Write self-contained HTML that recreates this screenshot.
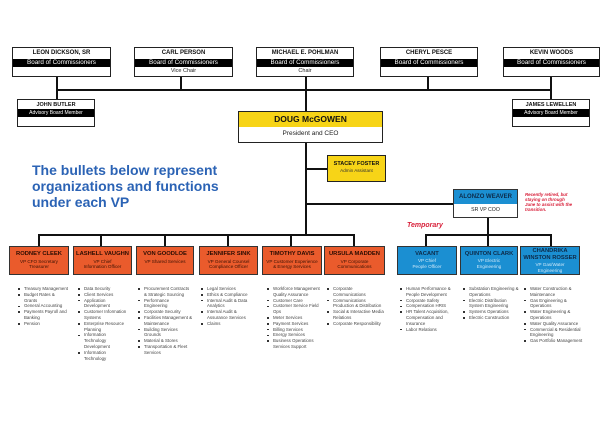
<!DOCTYPE html>
<html><head><meta charset="utf-8"><style>
*{margin:0;padding:0;box-sizing:border-box}
body{width:606px;height:424px;background:#fff;position:relative;overflow:hidden;font-family:"Liberation Sans",sans-serif}
.a{position:absolute}
.l{position:absolute;background:#111}
.bd{position:absolute;border:1.5px solid #222;background:#fff;text-align:center}
.bd .n{font-weight:bold;font-size:6px;height:11px;line-height:11px;color:#111}
.bd .k{background:#000;color:#fff;font-size:6.3px;line-height:8px;height:8px}
.bd .s{font-size:5.5px;line-height:9px;color:#222}
.adv .n{font-size:5.5px;height:9px;line-height:10px}
.adv .k{font-size:5px;height:8px;line-height:8px}
.vp{position:absolute;top:246px;height:29px;border:1px solid #333;text-align:center;font-size:4.6px;line-height:5.5px;padding-top:4px}
.o{background:#ea5b2c;color:#3a1204}
.o b{font-size:5.8px;line-height:7.5px;color:#2a0c02}
.bl{background:#1b8fd2;color:#cfe8f8}
.bl b{font-size:5.8px;line-height:7px;color:#0d2a48}
ul{position:absolute;top:286px;width:52px;font-size:4.4px;line-height:5.8px;color:#444;list-style:none}
li{padding-left:7px;position:relative}
li:before{content:"";position:absolute;left:1px;top:2.2px;width:1.6px;height:1.6px;background:#333}
</style></head><body>
<!-- board -->
<div class="bd" style="left:12px;top:47px;width:99px;height:30px"><div class="n">LEON DICKSON, SR</div><div class="k">Board of Commissioners</div></div>
<div class="bd" style="left:134px;top:47px;width:99px;height:30px"><div class="n">CARL PERSON</div><div class="k">Board of Commissioners</div><div class="s">Vice Chair</div></div>
<div class="bd" style="left:256px;top:47px;width:98px;height:30px"><div class="n">MICHAEL E. POHLMAN</div><div class="k">Board of Commissioners</div><div class="s">Chair</div></div>
<div class="bd" style="left:380px;top:47px;width:98px;height:30px"><div class="n">CHERYL PESCE</div><div class="k">Board of Commissioners</div></div>
<div class="bd" style="left:503px;top:47px;width:97px;height:30px"><div class="n">KEVIN WOODS</div><div class="k">Board of Commissioners</div></div>
<div class="l" style="left:56px;top:77px;width:1.5px;height:22px"></div>
<div class="l" style="left:180px;top:77px;width:1.5px;height:13px"></div>
<div class="l" style="left:305px;top:77px;width:1.5px;height:34px"></div>
<div class="l" style="left:427px;top:77px;width:1.5px;height:13px"></div>
<div class="l" style="left:550px;top:77px;width:1.5px;height:22px"></div>
<div class="l" style="left:56px;top:89px;width:496px;height:1.5px"></div>
<div class="bd adv" style="left:17px;top:99px;width:78px;height:28px"><div class="n">JOHN BUTLER</div><div class="k">Advisory Board Member</div></div>
<div class="bd adv" style="left:512px;top:99px;width:78px;height:28px"><div class="n">JAMES LEWELLEN</div><div class="k">Advisory Board Member</div></div>
<!-- CEO -->
<div class="a" style="left:238px;top:111px;width:145px;height:32px;border:1.5px solid #222;text-align:center">
<div style="background:#f7d417;height:15px;font-weight:bold;font-size:8.5px;line-height:15px;color:#111">DOUG McGOWEN</div>
<div style="font-size:6.5px;line-height:14px;color:#222">President and CEO</div></div>
<div class="l" style="left:305px;top:143px;width:1.5px;height:93px"></div>
<div class="l" style="left:305px;top:168px;width:23px;height:1.5px"></div>
<div class="a" style="left:327px;top:155px;width:59px;height:27px;border:1.5px solid #222;background:#f7d417;text-align:center;padding-top:5px">
<div style="font-weight:bold;font-size:5.5px;line-height:7px;color:#111">STACEY FOSTER</div><div style="font-size:4.6px;color:#333">Admin Assistant</div></div>
<div class="a" style="left:32px;top:162px;font-weight:bold;font-size:14px;line-height:16px;color:#2b63b5">The bullets below represent<br>organizations and functions<br>under each VP</div>
<!-- COO -->
<div class="l" style="left:305px;top:203px;width:148px;height:1.5px"></div>
<div class="a" style="left:453px;top:189px;width:65px;height:29px;border:1.5px solid #333;background:#fff;text-align:center">
<div style="background:#1b8fd2;height:14px;font-weight:bold;font-size:6px;line-height:14px;color:#0d2a48">ALONZO WEAVER</div>
<div style="font-size:5.2px;line-height:13px;color:#222">SR VP COO</div></div>
<div class="a" style="left:525px;top:192px;font-size:4.4px;line-height:5px;font-style:italic;font-weight:bold;color:#d8203a">Recently retired, but<br>staying on through<br>June to assist with the<br>transition.</div>
<div class="a" style="left:407px;top:222px;font-size:7px;font-weight:bold;font-style:italic;color:#d8203a">Temporary</div>
<div class="l" style="left:487px;top:218px;width:1.5px;height:18px"></div>
<div class="l" style="left:425px;top:234px;width:127px;height:1.5px"></div>
<div class="l" style="left:425px;top:234px;width:1.5px;height:12px"></div>
<div class="l" style="left:487px;top:234px;width:1.5px;height:12px"></div>
<div class="l" style="left:550px;top:234px;width:1.5px;height:12px"></div>
<!-- VP line -->
<div class="l" style="left:38px;top:234px;width:317px;height:1.5px"></div>
<div class="l" style="left:38px;top:234px;width:1.5px;height:12px"></div>
<div class="l" style="left:100px;top:234px;width:1.5px;height:12px"></div>
<div class="l" style="left:164px;top:234px;width:1.5px;height:12px"></div>
<div class="l" style="left:227px;top:234px;width:1.5px;height:12px"></div>
<div class="l" style="left:290px;top:234px;width:1.5px;height:12px"></div>
<div class="l" style="left:353px;top:234px;width:1.5px;height:12px"></div>
<div class="vp o" style="left:9px;width:60px"><b>RODNEY CLEEK</b><br>VP CFO Secretary<br>Treasurer</div>
<div class="vp o" style="left:73px;width:59px"><b>LASHELL VAUGHN</b><br>VP Chief<br>Information Officer</div>
<div class="vp o" style="left:136px;width:58px"><b>VON GOODLOE</b><br>VP Shared Services</div>
<div class="vp o" style="left:199px;width:59px"><b>JENNIFER SINK</b><br>VP General Counsel<br>Compliance Officer</div>
<div class="vp o" style="left:262px;width:60px"><b>TIMOTHY DAVIS</b><br>VP Customer Experience<br>&amp; Energy Services</div>
<div class="vp o" style="left:324px;width:61px"><b>URSULA MADDEN</b><br>VP Corporate<br>Communications</div>
<div class="vp bl" style="left:397px;width:60px"><b>VACANT</b><br>VP Chief<br>People Officer</div>
<div class="vp bl" style="left:460px;width:58px"><b>QUINTON CLARK</b><br>VP Electric<br>Engineering</div>
<div class="vp bl" style="left:520px;width:60px;padding-top:1px"><b>CHANDRIKA<br>WINSTON ROSSER</b><br>VP Gas/Water<br>Engineering</div>
<!-- bullets -->
<ul style="left:17px"><li>Treasury Management</li><li>Budget Rates &amp; Grants</li><li>General Accounting</li><li>Payments Payroll and Banking</li><li>Pension</li></ul>
<ul style="left:77px"><li>Data Security</li><li>Client Services</li><li>Application Development</li><li>Customer Information Systems</li><li>Enterprise Resource Planning</li><li>Information Technology Development</li><li>Information Technology</li></ul>
<ul style="left:137px;width:56px"><li>Procurement Contracts &amp; Strategic Sourcing</li><li>Performance Engineering</li><li>Corporate Security</li><li>Facilities Management &amp; Maintenance</li><li>Building Services Grounds</li><li>Material &amp; Stores</li><li>Transportation &amp; Fleet Services</li></ul>
<ul style="left:200px;width:58px"><li>Legal Services</li><li>Ethics &amp; Compliance</li><li>Internal Audit &amp; Data Analytics</li><li>Internal Audit &amp; Assurance Services</li><li>Claims</li></ul>
<ul style="left:266px;width:56px"><li>Workforce Management Quality Assurance</li><li>Customer Care</li><li>Customer Service Field Ops</li><li>Meter Services</li><li>Payment Services</li><li>Billing Services</li><li>Energy Services</li><li>Business Operations Services Support</li></ul>
<ul style="left:326px;width:58px"><li>Corporate Communications</li><li>Communications Production &amp; Distribution</li><li>Social &amp; Interactive Media Relations</li><li>Corporate Responsibility</li></ul>
<ul style="left:399px;width:60px"><li>Human Performance &amp; People Development</li><li>Corporate Safety</li><li>Compensation HRIS</li><li>HR Talent Acquisition, Compensation and Insurance</li><li>Labor Relations</li></ul>
<ul style="left:462px;width:58px"><li>Substation Engineering &amp; Operations</li><li>Electric Distribution System Engineering</li><li>Systems Operations</li><li>Electric Construction</li></ul>
<ul style="left:523px;width:60px"><li>Water Construction &amp; Maintenance</li><li>Gas Engineering &amp; Operations</li><li>Water Engineering &amp; Operations</li><li>Water Quality Assurance</li><li>Commercial &amp; Residential Engineering</li><li>Gas Portfolio Management</li></ul>
</body></html>
